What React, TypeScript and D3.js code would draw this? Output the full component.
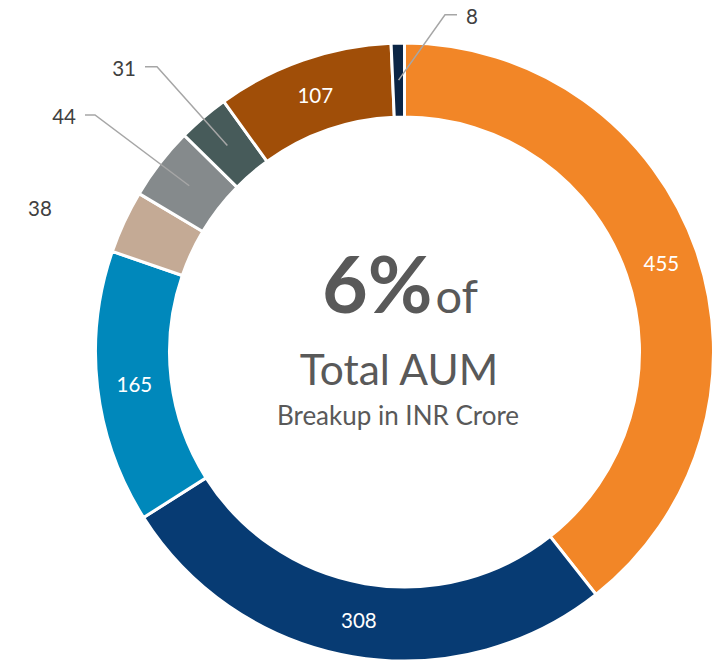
import React from "react";
import * as d3 from "d3";

// values in INR Crore, clockwise from 12 o'clock
const categories: string[] = ["A", "B", "C", "D", "E", "F", "G", "H"];
const values: number[] = [455, 308, 165, 38, 44, 31, 107, 8];
const colors: string[] = [
  "#F28627",
  "#073B73",
  "#0088BB",
  "#C4AA95",
  "#858A8C",
  "#475B5A",
  "#A04E08",
  "#0B2545",
];
// which slices are labelled outside the ring
const outsideLabels: number[] = [38, 44, 31, 8];

const width = 715;
const height = 663;
const cx = 404.5;
const cy = 352;
const outerR = 309;
const innerR = 235;
const font = "Lato, 'Open Sans', sans-serif";

// callout knees relative to the centre (manual label placement, like the original)
const callouts: Record<number, { knee: [number, number]; dir: number; line: number } | null> = {
  38: null,
  44: { knee: [-309.5, -237], dir: -1, line: 10 },
  31: { knee: [-247.5, -285.3], dir: -1, line: 12 },
  8: { knee: [40.5, -337.3], dir: 1, line: 12 },
};
const plainLabelAt: Record<number, [number, number]> = { 38: [-364.5, -144] };

const App: React.FC = () => {
  const pie = d3
    .pie<number>()
    .sort(null)
    .value((d) => d)
    .startAngle(0)
    .endAngle(2 * Math.PI);
  const arcs = pie(values);
  const arc = d3.arc<d3.PieArcDatum<number>>().innerRadius(innerR).outerRadius(outerR);

  return (
    <svg
      width={width}
      height={height}
      style={{ position: "absolute", left: 0, top: 0, background: "#fff" }}
    >
      <g transform={`translate(${cx},${cy})`}>
        {arcs.map((a, i) => (
          <path
            key={categories[i]}
            d={arc(a) || ""}
            fill={colors[i]}
            stroke="#fff"
            strokeWidth={3}
          />
        ))}
        {arcs.map((a, i) => {
          const v = values[i];
          const [x, y] = arc.centroid(a);
          if (!outsideLabels.includes(v)) {
            return (
              <text
                key={"l" + i}
                x={x}
                y={y}
                textAnchor="middle"
                dominantBaseline="central"
                fill="#fff"
                fontFamily={font}
                fontSize={20.5}
              >
                {v}
              </text>
            );
          }
          const c = callouts[v];
          if (!c) {
            const [px, py] = plainLabelAt[v];
            return (
              <text
                key={"l" + i}
                x={px}
                y={py}
                textAnchor="middle"
                dominantBaseline="central"
                fill="#404040"
                fontFamily={font}
                fontSize={20.5}
              >
                {v}
              </text>
            );
          }
          const [kx, ky] = c.knee;
          const ex = kx + c.dir * c.line;
          return (
            <g key={"l" + i}>
              <polyline
                points={`${x},${y} ${kx},${ky} ${ex},${ky}`}
                fill="none"
                stroke="#A6A6A6"
                strokeWidth={1.5}
              />
              <text
                x={ex + c.dir * 9}
                y={ky + 1}
                textAnchor={c.dir < 0 ? "end" : "start"}
                dominantBaseline="central"
                fill="#404040"
                fontFamily={font}
                fontSize={20.5}
              >
                {v}
              </text>
            </g>
          );
        })}
      </g>
      <g fontFamily={font} fill="#595959" textAnchor="middle">
        <text x={400} y={313}>
          <tspan fontSize={79} fontWeight="bold">6%</tspan>
          <tspan fontSize={47} dx={3}>of</tspan>
        </text>
        <text x={399} y={385} fontSize={42.5}>
          Total AUM
        </text>
        <text x={398} y={425} fontSize={26}>
          Breakup in INR Crore
        </text>
      </g>
    </svg>
  );
};

export default App;
